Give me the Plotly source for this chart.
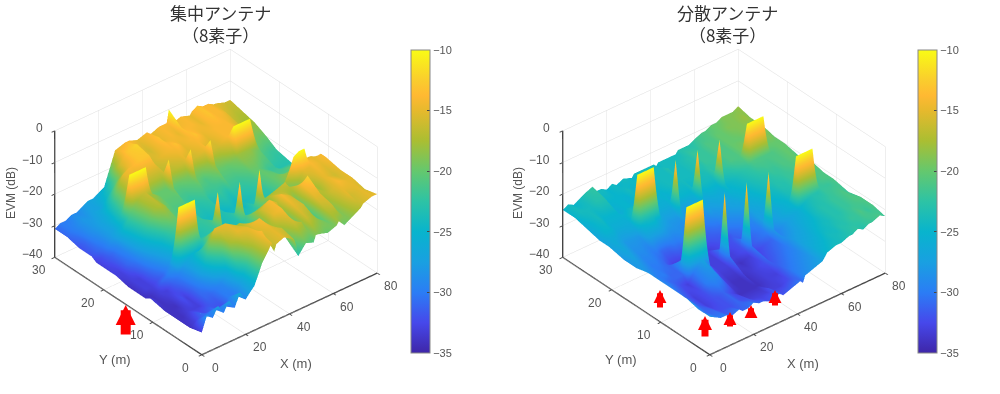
import plotly.graph_objects as go

X_CENTRAL = [0,2.5,5,7.5,10,12.5,15,17.5,20,22.5,24,27.5,32,33,34,37.5,42,43,44,47.5,51,52,53,57.5,61.5,62.5,65,67.5,70,72.5,73.5,77.5,80]
X_DISTRIBUTED = [0,2.5,5,7.5,10,13.5,15,17.5,20,22.5,24.5,27.5,31.5,32.5,33.5,37.5,41.5,42.5,43.5,47.5,51.5,52.5,53.5,57.5,60,63.5,65,67.5,70,72.5,74,77.5,80]
Y_M = [0, 2.5, 5, 7.5, 10.5, 11.5, 12.5, 15, 17.5, 20.5, 21.5, 22.5, 25, 27.5, 30]
X_TICKS = [0, 20, 40, 60, 80]
Y_TICKS = [0, 10, 20, 30]
Z_TICKS = [-40, -30, -20, -10, 0]
CB_TICKS = [-35, -30, -25, -20, -15, -10]

EVM_CENTRAL = [
[-33,-28,-30,-27,-30,-27,-30,-26,-29,-27,-26,-20,-15,-18,-16,-15,-17,-19,-23,-20,-21,-19,-19,-20,-19,-18,-20,-19,-18,-17,-16,-15,-15],
[-34,-33,-31,-32,-31,-32,-32,-30,-30,-28,-26,-19,-14,-14,-16,-15,-16,-18,-20,-16,-17,-19,-16,-18,-20,-17,-16,-19,-17,-15,-16,-15,-16],
[-34,-34,-33,-33,-33,-31,-31,-30,-29,-26,-18,-15,-15,-17,-15,-14,-18,-17,-15,-14,-20,-22,-15,-16,-24,-15,-15,-18,-16,-15,-14,-15,-15],
[-34,-34,-34,-32,-33,-31,-29,-26,-20,-15,-15,-15,-17,-18,-17,-19,-20,-20,-16,-14,-16,-18,-14,-16,-20,-14,-12,-16,-18,-15,-15,-16,-15],
[-33,-34,-33,-33,-31,-30,-28,-26,-25,-26,-22,-21,-22,-22,-23,-23,-23,-22,-21,-21,-22,-21,-18,-17,-16,-18,-22,-18,-15,-15,-14,-15,-14],
[-34,-34,-33,-31,-30,-28,-10,-10,-10,-10,-23,-23,-22,-11,-23,-24,-23,-11,-22,-23,-22,-10,-20,-20,-21,-19,-16,-11,-10,-10,-14,-15,-14],
[-34,-33,-33,-32,-31,-29,-27,-24,-23,-24,-24,-23,-22,-21,-23,-24,-23,-22,-23,-24,-23,-22,-23,-23,-23,-22,-20,-18,-17,-16,-15,-15,-16],
[-34,-33,-33,-31,-29,-27,-25,-22,-20,-20,-21,-22,-22,-23,-24,-24,-23,-24,-25,-24,-25,-24,-24,-23,-22,-21,-20,-20,-21,-21,-20,-20,-20],
[-33,-33,-31,-30,-27,-24,-21,-18,-17,-18,-20,-21,-21,-22,-22,-23,-22,-23,-23,-22,-23,-22,-22,-22,-21,-20,-20,-21,-22,-22,-23,-23,-23],
[-33,-32,-31,-29,-25,-22,-19,-17,-16,-18,-18,-20,-20,-19,-21,-21,-20,-19,-20,-21,-19,-18,-20,-20,-19,-18,-18,-18,-19,-20,-21,-22,-22],
[-33,-32,-30,-28,-26,-24,-10,-10,-10,-10,-19,-20,-20,-11,-20,-20,-19,-11,-19,-19,-18,-11,-19,-18,-16,-10,-10,-10,-10,-18,-20,-21,-21],
[-32,-31,-30,-28,-27,-24,-20,-17,-15,-15,-16,-17,-17,-16,-17,-17,-16,-15,-16,-16,-15,-14,-16,-16,-14,-14,-14,-14,-15,-17,-19,-20,-20],
[-32,-31,-29,-28,-27,-26,-23,-19,-15,-14,-14,-13,-13,-15,-16,-15,-14,-14,-13,-15,-14,-14,-13,-15,-14,-14,-14,-14,-15,-16,-17,-18,-18],
[-31,-30,-29,-28,-28,-27,-27,-25,-23,-20,-16,-13,-12,-13,-15,-16,-13,-14,-15,-14,-15,-13,-14,-14,-15,-14,-13,-14,-14,-15,-16,-17,-17],
[-31,-30,-30,-29,-29,-28,-27,-27,-26,-25,-22,-15,-14,-14,-14,-15,-14,-15,-15,-14,-14,-10,-15,-14,-15,-14,-13,-14,-14,-15,-15,-16,-16],
]

EVM_DISTRIBUTED = [
[-28,-29,-30,-30,-31,-30,-31,-31,-30,-31,-31,-32,-31,-31,-32,-31,-30,-31,-29,-28,-27,-26,-25,-24,-24,-23,-23,-22,-23,-22,-22,-21,-22],
[-28,-30,-31,-31,-32,-32,-32,-31,-32,-32,-33,-33,-33,-32,-33,-33,-32,-31,-30,-29,-28,-27,-26,-25,-24,-24,-23,-23,-22,-22,-21,-22,-21],
[-27,-29,-31,-32,-33,-32,-32,-31,-32,-33,-34,-34,-34,-34,-34,-33,-33,-32,-31,-30,-29,-28,-27,-26,-25,-24,-24,-23,-23,-22,-22,-21,-21],
[-27,-29,-31,-32,-33,-32,-30,-29,-29,-31,-33,-34,-34,-33,-34,-33,-32,-31,-32,-31,-30,-29,-28,-27,-26,-25,-24,-23,-23,-22,-22,-21,-22],
[-27,-29,-30,-31,-32,-33,-31,-29,-27,-29,-32,-33,-33,-30,-33,-34,-33,-30,-33,-32,-31,-28,-30,-28,-27,-26,-25,-24,-23,-23,-22,-22,-21],
[-27,-29,-30,-31,-31,-31,-10,-10,-10,-10,-31,-33,-33,-11,-33,-33,-32,-11,-32,-31,-30,-11,-29,-27,-26,-25,-10,-10,-10,-10,-22,-21,-21],
[-27,-29,-30,-30,-31,-31,-28,-27,-26,-28,-32,-33,-33,-30,-33,-33,-32,-30,-32,-31,-30,-27,-28,-27,-26,-25,-24,-23,-22,-22,-22,-21,-21],
[-28,-28,-29,-30,-30,-31,-32,-33,-33,-33,-33,-33,-33,-33,-33,-32,-32,-32,-31,-30,-29,-28,-27,-26,-25,-24,-23,-23,-22,-22,-21,-21,-20],
[-28,-27,-28,-29,-29,-30,-30,-31,-31,-30,-30,-29,-30,-31,-31,-31,-30,-30,-29,-28,-27,-27,-26,-25,-24,-23,-23,-22,-22,-21,-21,-20,-21],
[-27,-26,-27,-28,-28,-28,-25,-24,-24,-26,-27,-28,-28,-26,-28,-28,-27,-25,-27,-26,-26,-24,-25,-24,-23,-22,-21,-21,-21,-21,-21,-20,-20],
[-27,-26,-26,-27,-27,-26,-10,-10,-10,-10,-26,-27,-27,-11,-27,-27,-26,-11,-26,-25,-25,-11,-24,-23,-22,-21,-10,-10,-10,-10,-20,-20,-20],
[-27,-25,-25,-26,-26,-26,-24,-23,-23,-24,-26,-26,-26,-25,-26,-25,-25,-24,-25,-24,-24,-22,-23,-22,-21,-21,-20,-19,-19,-19,-20,-19,-20],
[-26,-25,-24,-25,-25,-25,-26,-25,-25,-26,-25,-25,-25,-25,-25,-24,-24,-24,-24,-24,-23,-23,-22,-22,-21,-21,-20,-20,-20,-19,-19,-19,-19],
[-25,-24,-24,-24,-23,-23,-25,-25,-25,-25,-24,-25,-24,-24,-24,-24,-24,-23,-24,-24,-23,-23,-22,-22,-21,-21,-20,-20,-19,-19,-19,-18,-19],
[-25,-24,-25,-24,-23,-22,-24,-24,-25,-24,-25,-24,-25,-24,-24,-24,-24,-25,-24,-24,-24,-23,-23,-23,-22,-21,-21,-20,-20,-19,-19,-19,-18],
]

TITLES = ["集中アンテナ<br>（8素子）", "分散アンテナ<br>（8素子）"]

PARULA = [
    [0.0, "rgb(62,38,168)"], [0.1, "rgb(70,72,235)"], [0.2, "rgb(43,125,245)"],
    [0.3, "rgb(25,160,225)"], [0.4, "rgb(8,180,205)"], [0.5, "rgb(45,195,165)"],
    [0.6, "rgb(100,200,110)"], [0.7, "rgb(170,190,50)"], [0.8, "rgb(230,185,45)"],
    [0.85, "rgb(255,185,50)"], [0.9, "rgb(250,205,45)"], [1.0, "rgb(249,251,21)"],
]

W, H = 1000, 394
TXT = "#555555"
FONT = "Liberation Sans"
CJK = "Noto Sans CJK JP"


def surface(x, z, scene, cb_left):
    return go.Surface(
        x=x, y=Y_M, z=z, scene=scene, colorscale=PARULA, cmin=-35, cmax=-10,
        lighting=dict(ambient=1, diffuse=0, specular=0, fresnel=0, roughness=1),
        hoverinfo="skip",
        colorbar=dict(
            x=cb_left / W, xanchor="left", xpad=0, ypad=0,
            y=1 - 201.5 / H, yanchor="middle",
            lenmode="pixels", len=303, thicknessmode="pixels", thickness=19,
            tickvals=CB_TICKS, ticks="inside", ticklen=3, tickcolor="#444444",
            outlinecolor="#888888", outlinewidth=1,
            tickfont=dict(family=FONT, size=11, color=TXT),
        ),
    )


def axis(rng, ticks):
    return dict(
        range=rng, tickvals=ticks, title=dict(text=""), showbackground=False,
        gridcolor="#dcdcdc", gridwidth=1, zeroline=False, showspikes=False,
        showticklabels=False,
        showline=True, linecolor="#444444", linewidth=3, ticks="outside", ticklen=4,
        tickcolor="#444444", tickwidth=2,
    )


def tick_note(text, x, y, z, dx, dy, anchor="center"):
    return dict(text=str(text).replace("-", "−"), x=x, y=y, z=z, showarrow=False,
                xshift=dx, yshift=dy, font=dict(family=FONT, size=12, color=TXT),
                xanchor=anchor, yanchor="middle")


def scene(cx):
    half = 200
    d = 2.5
    k = 1.205
    top, bottom = 12, 392
    notes = (
        [tick_note(v, v, 0, -40, 14, -13) for v in X_TICKS]
        + [tick_note(v, 0, v, -40, -16, -13) for v in Y_TICKS]
        + [tick_note(v, 0, 30, v, -10, 3, "right") for v in Z_TICKS]
    )
    return dict(
        domain=dict(x=[(cx - half) / W, (cx + half) / W],
                    y=[1 - bottom / H, 1 - top / H]),
        xaxis=axis([0, 80], X_TICKS), yaxis=axis([0, 30], Y_TICKS), zaxis=axis([-40, 0], Z_TICKS),
        aspectmode="manual", aspectratio=dict(x=k, y=k, z=0.664 * k),
        camera=dict(
            eye=dict(x=-0.534 * d, y=-0.637 * d, z=0.555 * d),
            center=dict(x=0, y=0, z=0), up=dict(x=0, y=0, z=1),
            projection=dict(type="orthographic"),
        ),
        annotations=notes,
    )


def label(text, x, y, size=12, angle=0, family=FONT, color=TXT):
    return dict(text=text, x=x / W, y=1 - y / H, xref="paper", yref="paper",
                showarrow=False, textangle=angle, font=dict(family=family, size=size, color=color),
                xanchor="center", yanchor="middle", align="center")


def arrow(x, y_tip, y_tail, width, size):
    return dict(text="", x=x / W, y=1 - y_tip / H, xref="paper", yref="paper",
                ax=0, ay=y_tail - y_tip, axref="pixel", ayref="pixel", showarrow=True,
                arrowhead=2, arrowsize=size, arrowwidth=width, arrowcolor="#ff0000")


fig = go.Figure([
    surface(X_CENTRAL, EVM_CENTRAL, "scene", 411),
    surface(X_DISTRIBUTED, EVM_DISTRIBUTED, "scene2", 918),
])

notes = [
    label(TITLES[0], 220, 23, size=17, family=CJK, color="#333333"),
    label(TITLES[1], 727, 23, size=17, family=CJK, color="#333333"),
    label("EVM (dB)", 11, 193, angle=-90), label("EVM (dB)", 518, 193, angle=-90),
    label("X (m)", 296, 363, size=13), label("X (m)", 803, 363, size=13),
    label("Y (m)", 115, 359, size=13), label("Y (m)", 621, 359, size=13),
    arrow(125.7, 305, 336, 10, 0.4),
    arrow(660, 290, 309, 6, 0.43), arrow(705, 316, 338, 7, 0.4), arrow(730, 312, 328, 6, 0.43),
    arrow(751, 305, 319, 6, 0.43), arrow(775, 290, 307, 6, 0.43),
]

fig.update_layout(
    width=W, height=H, margin=dict(l=0, r=0, t=0, b=0), paper_bgcolor="white",
    scene=scene(216), scene2=scene(723.5), annotations=notes, showlegend=False,
)
fig.write_html("out.html", config={"displayModeBar": False},
               post_script="document.body.style.margin='0';")
